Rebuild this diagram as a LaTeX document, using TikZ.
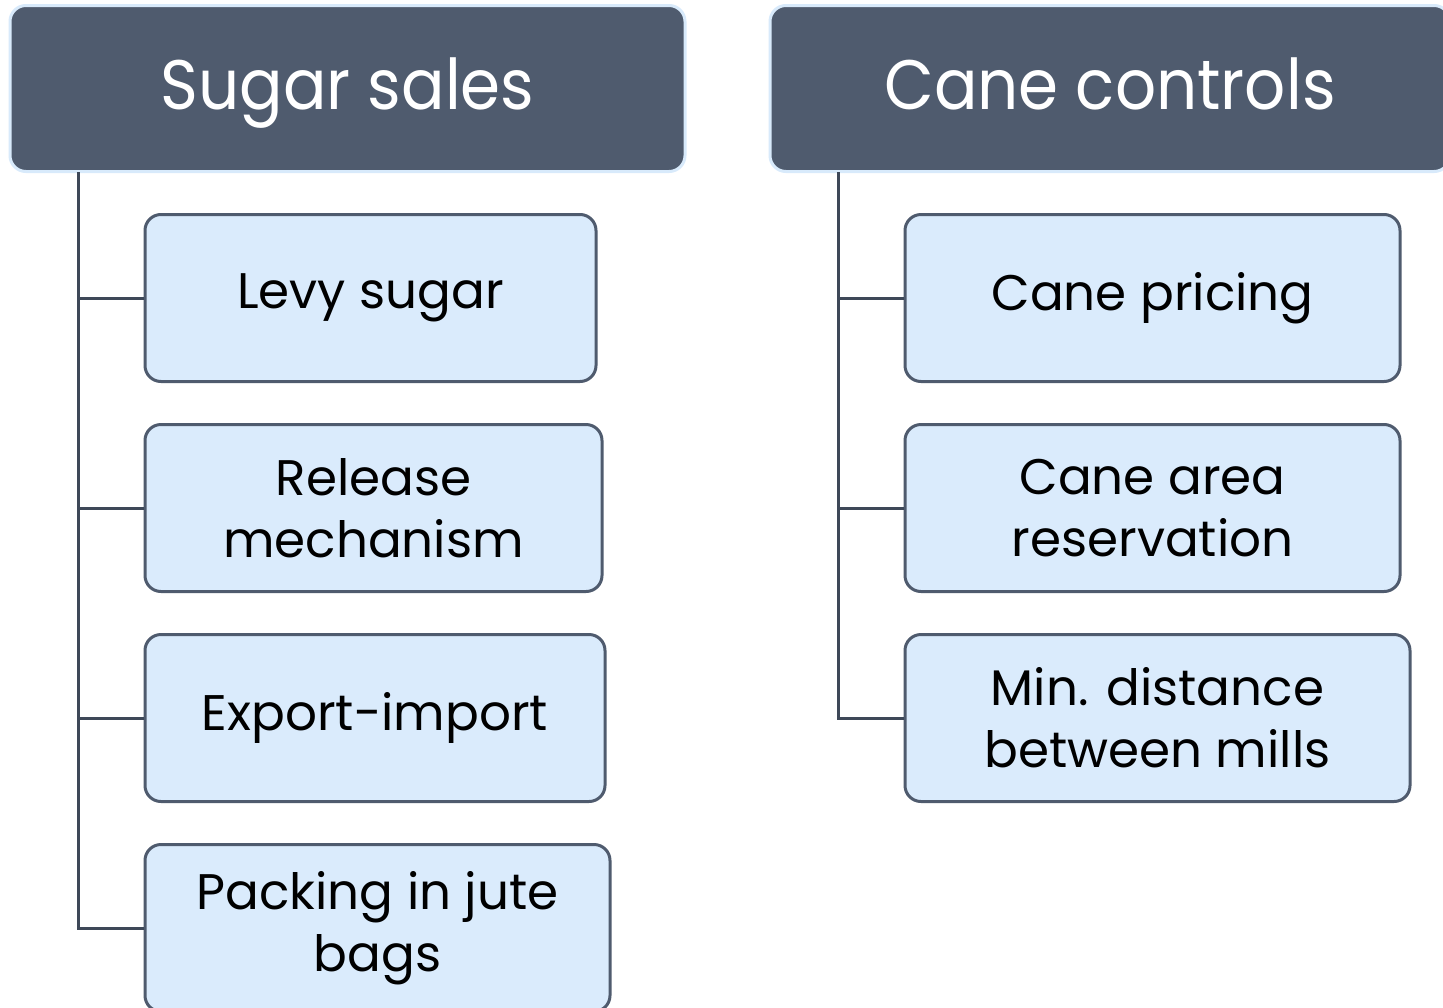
\documentclass[tikz,border=0pt]{standalone}
\usepackage{fontspec}
\setmainfont{Poppins}
\newfontfamily\headfont[FakeStretch=0.92]{Poppins}
\usetikzlibrary{positioning}

\definecolor{slate}{HTML}{4F5B6E}
\definecolor{paleblue}{HTML}{DAEBFC}
\definecolor{rimblue}{HTML}{D8EAFB}
\definecolor{stem}{HTML}{3E4858}

\tikzset{
  header/.style={draw=rimblue, line width=3pt, fill=slate, rounded corners=16pt,
    minimum width=675pt, minimum height=166pt, text=white,
    text height=50pt, text depth=9pt,
    font=\headfont\fontsize{70}{80}\selectfont},
  item/.style={draw=slate, line width=3pt, fill=paleblue, rounded corners=16pt,
    minimum height=167pt, align=center, text=black,
    font=\fontsize{50}{62}\selectfont},
  branch/.style={stem, line width=3pt}
}

\begin{document}
\begin{tikzpicture}[x=1pt,y=-1pt]
\clip (0,0) rectangle (1443,1007);
\fill[white] (0,0) rectangle (1443,1007);

% two column heads
\node[header] (sales) at (347.5,88.5) {Sugar sales};
\node[header, minimum width=680pt] (cane) at (1110,88.5) {Cane controls};

% left column
\node[item, minimum width=451pt] (levy) at (370.5,298) {Levy sugar};
\node[item, minimum width=457pt] (release) at (373.5,508) {Release\\mechanism};
\node[item, minimum width=460pt] (export) at (375,718) {Export-import};
\node[item, minimum width=465pt] (jute) at (377.5,928) {Packing in jute\\bags};

% right column
\node[item, minimum width=495pt] (pricing) at (1152.5,298) {Cane pricing};
\node[item, minimum width=495pt] (area) at (1152.5,508) {Cane area\\reservation};
\node[item, minimum width=505pt] (mills) at (1157.5,718) {Min. distance\\between mills};

% stems under the heads
\coordinate (ls) at (78,172);
\coordinate (rs) at (838,172);

\draw[branch] (ls) |- (levy.west);
\draw[branch] (ls) |- (release.west);
\draw[branch] (ls) |- (export.west);
\draw[branch] (ls) |- (jute.west);

\draw[branch] (rs) |- (pricing.west);
\draw[branch] (rs) |- (area.west);
\draw[branch] (rs) |- (mills.west);
\end{tikzpicture}
\end{document}
